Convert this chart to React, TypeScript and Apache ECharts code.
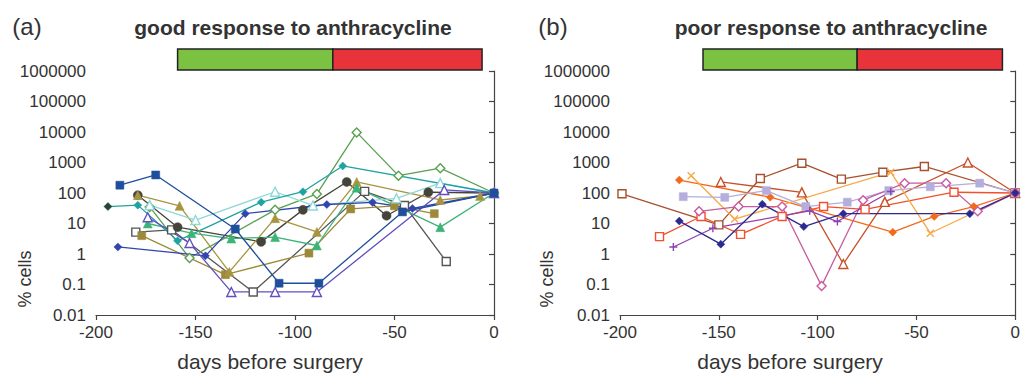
import React, { useEffect, useRef } from "react";
import * as echarts from "echarts";

// ---------- tick labels ----------
const yTickLabels = ["0.01", "0.1", "1", "10", "100", "1000", "10000", "100000", "1000000"];
const xTickLabels = ["-200", "-150", "-100", "-50", "0"];

// ---------- treatment phase bars (days before surgery) ----------
const phasesA = [-159, -81, -6];
const phasesB = [-158, -80, -6.5];

// ---------- panel (a): good response ----------
const aNavySquare = [[-188, 180], [-170, 390], [-130, 6.6], [-108, 0.11], [-88, 0.11], [-46, 24], [0, 100]];
const aSlateTriangle = [[-174, 16], [-153, 2.3], [-132, 0.057], [-110, 0.057], [-89, 0.057], [-25, 126], [0, 100]];
const aBlueDiamond = [[-189, 1.7], [-145, 0.87], [-125, 21], [-84, 42], [-61, 49], [-41, 31], [0, 100]];
const aTealDiamond = [[-194, 36], [-179, 40], [-159, 2.7], [-117, 50], [-96, 110], [-76, 770], [0, 100]];
const aCyanTriangle = [[-173, 40], [-150, 13], [-110, 110], [-91, 39], [-49, 67], [-27, 210], [0, 100]];
const aGreenDiamond = [[-173, 35], [-153, 0.74], [-110, 28], [-89, 93], [-69, 9700], [-48, 370], [-27, 650], [0, 100]];
const aSeaTriangle = [[-174, 10], [-152, 4.8], [-132, 3.2], [-110, 3.6], [-89, 1.9], [-69, 150], [-27, 7.6], [0, 100]];
const aOliveTriangle = [[-179, 85], [-158, 38], [-133, 0.26], [-110, 15], [-89, 5.3], [-69, 230], [-27, 59], [-7, 80], [0, 100]];
const aOliveSquare = [[-177, 4], [-135, 0.21], [-93, 1.07], [-72, 30], [-50, 38], [-30, 21]];
const aDarkCircle = [[-179, 85], [-159, 7.6], [-117, 2.5], [-96, 28], [-74, 230], [-54, 18], [-33, 106], [0, 100]];
const aGrayOpenSquare = [[-180, 5.2], [-162, 6.2], [-121, 0.057], [-65, 113], [-45, 39], [-24, 0.57]];

// ---------- panel (b): poor response ----------
const bBrownSquare = [[-199, 94], [-150, 9], [-129, 300], [-108, 950], [-88, 285], [-67, 480], [-46, 740], [0, 100]];
const bRedSquare = [[-180, 3.7], [-159, 17], [-139, 4.4], [-118, 17], [-97, 36], [-76, 29], [-31, 106], [0, 100]];
const bRustTriangle = [[-149, 230], [-108, 105], [-87, 0.47], [-66, 51], [-24, 1000], [0, 100]];
const bOrangeDiamond = [[-170, 265], [-124, 73], [-62, 5.2], [-41, 17], [-21, 36], [0, 100]];
const bLightOrangeX = [[-164, 370], [-142, 14], [-63, 480], [-43, 4.8], [0, 100]];
const bLavenderSquare = [[-168, 76], [-147, 72], [-126, 120], [-106, 36], [-85, 50], [-64, 120], [-43, 160], [-18, 210], [0, 100]];
const bPinkDiamond = [[-160, 25], [-140, 36], [-118, 36], [-98, 0.09], [-77, 58], [-56, 210], [-35, 210], [-19, 25], [0, 100]];
const bPurplePlus = [[-173, 1.7], [-153, 7], [-104, 26], [-90, 11.6], [-63, 112]];
const bNavyDiamond = [[-170, 12], [-149, 2.1], [-128, 43], [-107, 7.9], [-87, 21], [-23, 21], [0, 100]];

const FONT = "Liberation Sans, Arial, Helvetica, sans-serif";
const SYM_X = "path://M0,0L10,10M10,0L0,10";
const SYM_PLUS = "path://M5,0L5,10M0,5L10,5";

function mk(
  data: number[][],
  color: string,
  symbol: string,
  hollow: boolean,
  gi: number,
  size = 7,
  firstColor?: string
) {
  const isPath = symbol.startsWith("path://");
  const items = data.map((d, i) =>
    i === 0 && firstColor
      ? { value: d, itemStyle: { color: firstColor, borderColor: firstColor } }
      : { value: d }
  );
  return {
    type: "line",
    xAxisIndex: gi,
    yAxisIndex: gi,
    data: items,
    symbol,
    symbolSize: size,
    showSymbol: true,
    lineStyle: { color, width: 1.3 },
    itemStyle: isPath
      ? { color: "none", borderColor: color, borderWidth: 1.4 }
      : hollow
      ? { color: "#ffffff", borderColor: color, borderWidth: 1.4 }
      : { color, borderColor: color, borderWidth: 0.5 },
    emphasis: { disabled: true },
    z: 2,
  };
}

function axesFor(gi: number) {
  return {
    x: {
      type: "value",
      gridIndex: gi,
      min: -200,
      max: 0,
      interval: 50,
      axisLine: { show: true, lineStyle: { color: "#444", width: 1.2 } },
      axisTick: { show: true, inside: false, length: 5, lineStyle: { color: "#444", width: 1.2 } },
      splitLine: { show: false },
      axisLabel: {
        fontSize: 17,
        color: "#333",
        fontFamily: FONT,
        margin: 9,
        formatter: (v: number) => xTickLabels[Math.round((v + 200) / 50)],
      },
    },
    y: {
      type: "log",
      logBase: 10,
      gridIndex: gi,
      min: 0.01,
      max: 1000000,
      axisLine: { show: true, lineStyle: { color: "#444", width: 1.2 } },
      axisTick: { show: true, inside: false, length: 5, lineStyle: { color: "#444", width: 1.2 } },
      splitLine: { show: false },
      minorTick: { show: false },
      axisLabel: {
        fontSize: 17,
        color: "#333",
        fontFamily: FONT,
        margin: 10,
        formatter: (v: number) => yTickLabels[Math.round(Math.log10(v)) + 2],
      },
    },
  };
}

export default function App() {
  const ref = useRef<HTMLDivElement>(null);
  useEffect(() => {
    if (!ref.current) return;
    const chart = echarts.init(ref.current, undefined, { renderer: "svg" });
    const A = axesFor(0);
    const B = axesFor(1);
    const series = [
      // panel a
      mk(aGrayOpenSquare, "#555555", "rect", true, 0, 8),
      mk(aDarkCircle, "#44443a", "circle", false, 0, 9),
      mk(aOliveSquare, "#9c8a3a", "rect", false, 0, 8),
      mk(aOliveTriangle, "#a89440", "triangle", false, 0, 9),
      mk(aSeaTriangle, "#3cb476", "triangle", false, 0, 9),
      mk(aGreenDiamond, "#5aa050", "diamond", true, 0, 9),
      mk(aCyanTriangle, "#8fd8d8", "triangle", true, 0, 9),
      mk(aTealDiamond, "#1fa3a0", "diamond", false, 0, 8, "#22443a"),
      mk(aBlueDiamond, "#3244b0", "diamond", false, 0, 8),
      mk(aSlateTriangle, "#6050c0", "triangle", true, 0, 9),
      mk(aNavySquare, "#1f4f9c", "rect", false, 0, 8),
      // panel b
      mk(bBrownSquare, "#a8502e", "rect", true, 1, 8),
      mk(bRedSquare, "#f2502e", "rect", true, 1, 8),
      mk(bRustTriangle, "#c8502a", "triangle", true, 1, 9),
      mk(bOrangeDiamond, "#f26a1c", "diamond", false, 1, 8),
      mk(bLightOrangeX, "#f8a848", SYM_X, false, 1, 7),
      mk(bLavenderSquare, "#b4aedc", "rect", false, 1, 8),
      mk(bPinkDiamond, "#c85aa0", "diamond", true, 1, 9),
      mk(bPurplePlus, "#9040b0", SYM_PLUS, false, 1, 8),
      mk(bNavyDiamond, "#2a2a92", "diamond", false, 1, 8),
    ];
    const option: any = {
      animation: false,
      backgroundColor: "#ffffff",
      grid: [
        { left: 96, top: 71, width: 398, height: 244, containLabel: false },
        { left: 620, top: 71, width: 400, height: 244, containLabel: false },
      ],
      xAxis: [A.x, B.x],
      yAxis: [A.y, B.y],
      series,
    };
    chart.setOption(option);

    const bars: any[] = [];
    const addBars = (gi: number, ph: number[]) => {
      const colors = ["#7cc242", "#e8333a"];
      for (let i = 0; i < ph.length - 1; i++) {
        const p0 = chart.convertToPixel({ gridIndex: gi } as any, [ph[i], 1000000]) as number[];
        const p1 = chart.convertToPixel({ gridIndex: gi } as any, [ph[i + 1], 1000000]) as number[];
        bars.push({
          type: "rect",
          shape: { x: p0[0], y: p0[1] - 22, width: p1[0] - p0[0], height: 21 },
          style: { fill: colors[i], stroke: "#222", lineWidth: 1.5 },
          z: 10,
        });
      }
    };
    addBars(0, phasesA);
    addBars(1, phasesB);

    const txt = (x: number, y: number, text: string, size: number, bold = false, extra: any = {}) => ({
      type: "text",
      x,
      y,
      style: {
        text,
        fontSize: size,
        fontWeight: bold ? "bold" : "normal",
        fontFamily: FONT,
        fill: "#333",
        textAlign: "center",
        textVerticalAlign: "middle",
      },
      ...extra,
    });

    chart.setOption({
      graphic: [
        ...bars,
        txt(27, 26, "(a)", 24),
        txt(293, 27, "good response to anthracycline", 21, true),
        txt(553, 26, "(b)", 24),
        txt(831, 27, "poor response to anthracycline", 21, true),
        txt(270, 361, "days before surgery", 21),
        txt(790, 361, "days before surgery", 21),
        txt(25, 279, "% cells", 18, false, { rotation: Math.PI / 2 }),
        txt(547, 279, "% cells", 18, false, { rotation: Math.PI / 2 }),
      ],
    });

    return () => chart.dispose();
  }, []);
  return (
    <div
      ref={ref}
      style={{ position: "fixed", left: 0, top: 0, width: 1023, height: 377, background: "#fff" }}
    />
  );
}
